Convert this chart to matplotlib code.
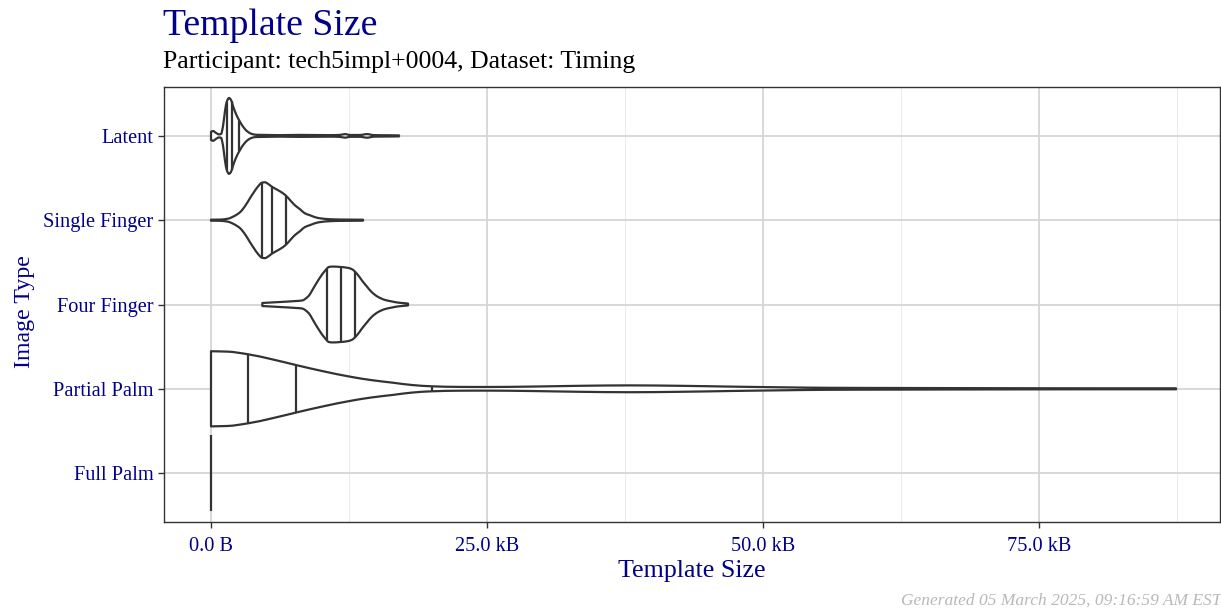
import numpy as np
import matplotlib
matplotlib.use("Agg")
import matplotlib.pyplot as plt
from matplotlib.path import Path
from matplotlib.patches import PathPatch

# ---------------- data ----------------
categories = ["Full Palm", "Partial Palm", "Four Finger", "Single Finger", "Latent"]

# density profiles: template size (kB) and relative violin half-width (max = 1)
latent_x = [0.0, 0.18, 0.45, 0.72, 0.91, 1.09, 1.27, 1.45, 1.63, 1.81, 1.99, 2.26, 2.63, 2.99,
            3.35, 3.71, 4.08, 4.89, 6.25, 8.06, 10.78, 11.68, 12.14, 12.59, 13.5, 14.13,
            14.76, 16.21, 17.03]
latent_d = [0.105, 0.13, 0.08, 0.04, 0.05, 0.26, 0.66, 0.92, 1.0, 0.95, 0.79, 0.58, 0.37, 0.21,
            0.105, 0.05, 0.03, 0.026, 0.02, 0.026, 0.02, 0.026, 0.047, 0.024, 0.024, 0.047,
            0.02, 0.016, 0.013]
latent_q = [1.42, 1.87, 2.56]

single_x = [0.0, 0.82, 1.54, 2.08, 2.63, 3.08, 3.53, 3.89, 4.26, 4.62, 4.89, 5.16, 5.53, 5.89,
            6.25, 6.70, 7.16, 7.61, 8.06, 8.51, 8.97, 9.42, 9.87, 10.78, 11.68, 13.77]
single_d = [0.013, 0.016, 0.04, 0.105, 0.21, 0.37, 0.58, 0.74, 0.89, 0.99, 1.0, 0.96, 0.88, 0.82,
            0.76, 0.67, 0.53, 0.39, 0.29, 0.18, 0.13, 0.08, 0.05, 0.026, 0.018, 0.013]
single_q = [4.62, 5.53, 6.79]

four_x = [4.65, 6.25, 7.61, 8.24, 8.79, 9.42, 9.87, 10.33, 10.69, 11.05, 11.68, 12.32, 12.77,
          13.22, 13.68, 14.13, 14.58, 15.13, 15.76, 16.39, 16.94, 17.84]
four_d = [0.04, 0.066, 0.09, 0.105, 0.21, 0.5, 0.71, 0.89, 0.99, 1.0, 0.99, 0.97, 0.93,
          0.81, 0.63, 0.47, 0.32, 0.2, 0.12, 0.08, 0.05, 0.026]
four_q = [10.48, 11.78, 13.04]

partial_x = [0.0, 1.5, 3.35, 5.5, 7.79, 10.2, 12.59, 14.5, 16.5, 18.2, 20.0, 22.5, 25.0,
             28.9, 33.42, 37.95, 42.48, 47.01, 51.54, 56.07, 62.41, 71.47, 80.53, 87.41]
partial_d = [0.99, 0.98, 0.91, 0.78, 0.62, 0.46, 0.32, 0.23, 0.16, 0.10, 0.066, 0.05, 0.048,
             0.058, 0.079, 0.09, 0.079, 0.058, 0.04, 0.026, 0.021, 0.016, 0.013, 0.013]
partial_q = [3.35, 7.7, 20.0]

full_x = [0.0]
full_d = [1.0]
full_q = []

x_ticks = [0, 25, 50, 75]
x_tick_labels = ["0.0 B", "25.0 kB", "50.0 kB", "75.0 kB"]
x_minor = [12.5, 37.5, 62.5, 87.5]

profiles = {
    "Full Palm": (full_x, full_d, full_q),
    "Partial Palm": (partial_x, partial_d, partial_q),
    "Four Finger": (four_x, four_d, four_q),
    "Single Finger": (single_x, single_d, single_q),
    "Latent": (latent_x, latent_d, latent_q),
}

# ---------------- styling ----------------
FONT = ["Liberation Serif", "DejaVu Serif"]
BLUE = "#00008B"
LINE = "#333333"
HALF = 0.45
LW = 1.6

W, H = 1221, 611
fig = plt.figure(figsize=(W / 100, H / 100), dpi=100)
L, R, T, B = 164, 1220, 87, 522
ax = fig.add_axes([L / W, 1 - B / H, (R - L) / W, (B - T) / H])

ax.set_xlim(-4.257, 91.39)
ax.set_ylim(0.42, 5.58)


def hermite_slopes(x, y):
    """Monotone (Fritsch-Carlson) tangents for a smooth outline through the points."""
    h = np.diff(x)
    delta = np.diff(y) / h
    m = np.zeros_like(y)
    m[0], m[-1] = delta[0], delta[-1]
    for k in range(1, len(x) - 1):
        if delta[k - 1] * delta[k] <= 0:
            m[k] = 0.0
        else:
            w1 = 2 * h[k] + h[k - 1]
            w2 = h[k] + 2 * h[k - 1]
            m[k] = (w1 + w2) / (w1 / delta[k - 1] + w2 / delta[k])
    return m


def curve_segments(x, y):
    """Cubic Bezier control points for a smooth curve through (x, y)."""
    m = hermite_slopes(x, y)
    verts, codes = [], []
    for k in range(len(x) - 1):
        h = x[k + 1] - x[k]
        verts += [(x[k] + h / 3, y[k] + m[k] * h / 3),
                  (x[k + 1] - h / 3, y[k + 1] - m[k + 1] * h / 3),
                  (x[k + 1], y[k + 1])]
        codes += [Path.CURVE4] * 3
    return verts, codes


def curve_value(x, y, q):
    m = hermite_slopes(x, y)
    k = int(np.clip(np.searchsorted(x, q) - 1, 0, len(x) - 2))
    h = x[k + 1] - x[k]
    t = (q - x[k]) / h
    h00 = 2 * t**3 - 3 * t**2 + 1
    h10 = t**3 - 2 * t**2 + t
    h01 = -2 * t**3 + 3 * t**2
    h11 = t**3 - t**2
    return h00 * y[k] + h10 * h * m[k] + h01 * y[k + 1] + h11 * h * m[k + 1]


# grid
for xm in x_minor:
    ax.axvline(xm, color="#ebebeb", lw=0.7, zorder=0)
for xt in x_ticks:
    ax.axvline(xt, color="#d6d6d6", lw=1.3, zorder=0)
for i in range(len(categories)):
    ax.axhline(i + 1, color="#d6d6d6", lw=1.3, zorder=0)

for i, cat in enumerate(categories):
    y = i + 1
    xs, ds, qs = profiles[cat]
    xs = np.asarray(xs, float)
    ds = np.asarray(ds, float) * HALF
    if len(xs) == 1:
        ax.plot([xs[0], xs[0]], [y - ds[0], y + ds[0]], color=LINE, lw=LW,
                solid_capstyle="butt", zorder=3)
        continue
    up_v, up_c = curve_segments(xs, y + ds)
    lo_v, lo_c = curve_segments(xs[::-1], (y - ds)[::-1])
    verts = [(xs[0], y + ds[0])] + up_v + [(xs[-1], y - ds[-1])] + lo_v + [(xs[0], y + ds[0])]
    codes = [Path.MOVETO] + up_c + [Path.LINETO] + lo_c + [Path.CLOSEPOLY]
    ax.add_patch(PathPatch(Path(verts, codes), facecolor="white", edgecolor=LINE, lw=LW,
                           joinstyle="round", zorder=2))
    for q in qs:
        hw = curve_value(xs, ds, q)
        ax.plot([q, q], [y - hw, y + hw], color=LINE, lw=LW, solid_capstyle="butt", zorder=3)

ax.set_xticks(x_ticks)
ax.set_xticklabels(x_tick_labels)
ax.set_yticks(range(1, len(categories) + 1))
ax.set_yticklabels(categories)
ax.tick_params(axis="x", pad=6)
ax.tick_params(axis="y", pad=3)
ax.tick_params(axis="both", direction="out", length=4.5, width=1.0, color=LINE,
               labelcolor=BLUE, labelsize=14.7)
for lab in ax.get_xticklabels() + ax.get_yticklabels():
    lab.set_family(FONT)

for s in ax.spines.values():
    s.set_color(LINE)
    s.set_linewidth(1.0)

ax.set_xlabel("Template Size", color=BLUE, fontsize=18.7, family=FONT, labelpad=3.5)
ax.set_ylabel("Image Type", color=BLUE, fontsize=17.2, family=FONT)
ax.yaxis.set_label_coords(-0.122, 0.484)

fig.text(163 / W, 1 - 35 / H, "Template Size", color=BLUE, fontsize=27.2, family=FONT,
         ha="left", va="baseline")
fig.text(163 / W, 1 - 68 / H, "Participant: tech5impl+0004, Dataset: Timing", color="black",
         fontsize=18.5, family=FONT, ha="left", va="baseline")
fig.text(1221 / W, 1 - 605 / H, "Generated 05 March 2025, 09:16:59 AM EST", color="#b8b8b8",
         fontsize=12.5, family=FONT, style="italic", ha="right", va="baseline")

fig.savefig("out.png", dpi=100)
